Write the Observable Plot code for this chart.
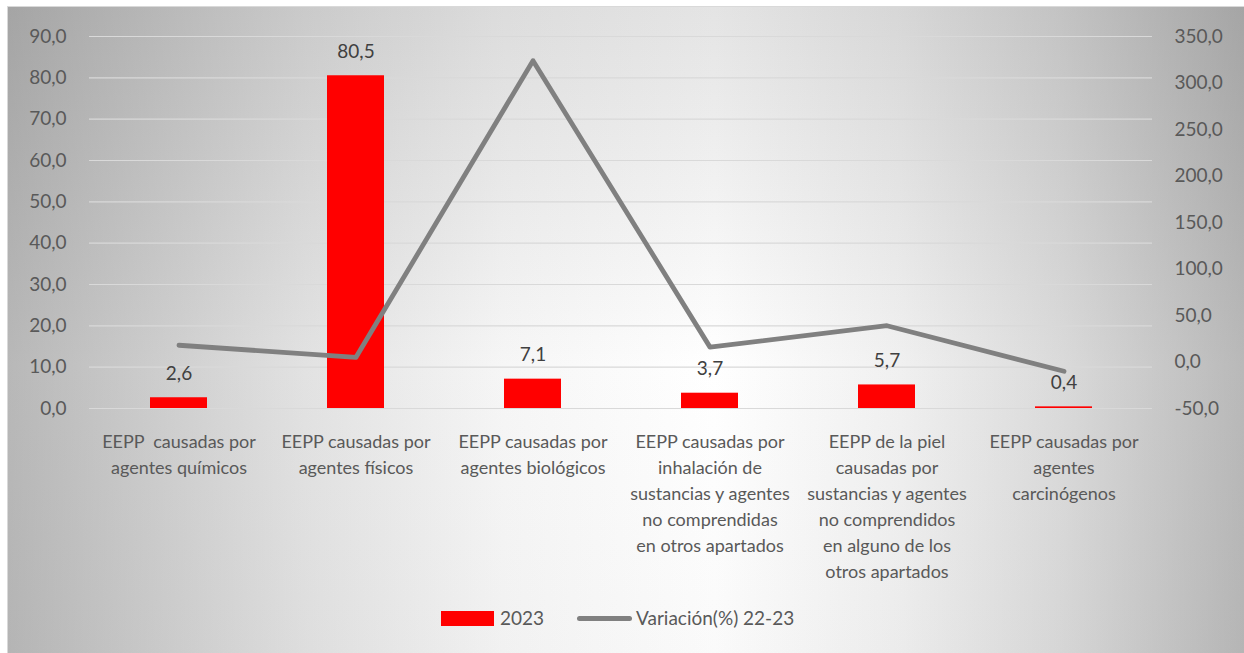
<!DOCTYPE html>
<html>
<head>
<meta charset="utf-8">
<script src="https://cdn.jsdelivr.net/npm/d3@7"></script>
<script src="https://cdn.jsdelivr.net/npm/@observablehq/plot@0.6"></script>
<style>
  html, body { margin: 0; padding: 0; background: #ffffff; }
  body { position: relative; width: 1244px; height: 653px; overflow: hidden; font-family: Lato, "Open Sans", sans-serif; }
  #bg { position: absolute; left: 7px; top: 6px; width: 1240px; height: 650px; border: 1px solid #d9d9d9;
        background: linear-gradient(to right, #b8b8b8 0%, #e2e2e2 24%, #f6f6f6 40%, #ffffff 57%, #f0f0f0 72%, #dadada 85%, #b8b8b8 100%),
                    linear-gradient(to bottom, #e4e4e4 0%, #ffffff 55%, #fafafa 100%);
        background-blend-mode: multiply; }
  #chart { position: absolute; left: 0; top: 0; }
  #chart svg text { white-space: pre; }
  #legend { position: absolute; left: 0; top: 0; width: 1244px; height: 653px; pointer-events: none; color: #595959; font-size: 19px; }
  .sw-bar { position: absolute; left: 441px; top: 611px; width: 53px; height: 15px; background: #ff0000; }
  .sw-line { position: absolute; left: 577px; top: 616px; width: 55px; height: 5px; background: #808080; border-radius: 3px; }
  .lt { position: absolute; top: 605px; line-height: 26px; }
</style>
</head>
<body>
<div id="bg"></div>
<div id="chart"></div>
<div id="legend">
  <div class="sw-bar"></div><div class="lt" id="l1" style="left:500px"></div>
  <div class="sw-line"></div><div class="lt" id="l2" style="left:636px"></div>
</div>
<script>
const categories = [
  "EEPP  causadas por\nagentes químicos",
  "EEPP causadas por\nagentes físicos",
  "EEPP causadas por\nagentes biológicos",
  "EEPP causadas por\ninhalación de\nsustancias y agentes\nno comprendidas\nen otros apartados",
  "EEPP de la piel\ncausadas por\nsustancias y agentes\nno comprendidos\nen alguno de los\notros apartados",
  "EEPP causadas por\nagentes\ncarcinógenos"
];
const values2023 = [2.6, 80.5, 7.1, 3.7, 5.7, 0.4];
const variation = [18, 5, 324, 16, 39, -10];
const seriesNames = ["2023", "Variación(%) 22-23"];
const leftTicks = [0, 10, 20, 30, 40, 50, 60, 70, 80, 90];
const rightTicks = [-50, 0, 50, 100, 150, 200, 250, 300, 350];

document.getElementById("l1").textContent = seriesNames[0];
document.getElementById("l2").textContent = seriesNames[1];

// secondary axis (-50..350) mapped onto primary (0..90)
const toLeft = v => (v + 50) * 90 / 400;
const fromLeft = y => y * 400 / 90 - 50;
const fmt = d => (Math.round(d * 10) / 10).toFixed(1).replace(".", ",");

const data = categories.map((c, i) => ({c, v: values2023[i], w: variation[i]}));

const plot = Plot.plot({
  width: 1244,
  height: 600,
  marginLeft: 89,
  marginRight: 92,
  marginTop: 36,
  marginBottom: 192,
  style: {background: "transparent", fontFamily: "Lato, 'Open Sans', sans-serif", overflow: "visible"},
  x: {domain: categories, type: "band", paddingInner: 0.68, paddingOuter: 0.34, axis: null, label: null},
  y: {domain: [0, 90], axis: null, label: null},
  marks: [
    Plot.gridY(leftTicks, {stroke: "#d9d9d9", strokeOpacity: 1, strokeWidth: 1.2}),
    Plot.barY(data, {x: "c", y: "v", fill: "#ff0000"}),
    Plot.line(data, {x: "c", y: d => toLeft(d.w), stroke: "#808080", strokeWidth: 4.8, strokeLinecap: "round", strokeLinejoin: "round"}),
    Plot.text(data, {x: "c", y: "v", text: d => fmt(d.v), dy: -18, lineAnchor: "bottom", fontSize: 19, fill: "#404040"}),
    Plot.axisY(leftTicks, {anchor: "left", label: null, tickSize: 0, tickPadding: 23, tickFormat: fmt, fontSize: 19, fill: "#595959"}),
    Plot.axisY(rightTicks.map(toLeft), {anchor: "right", label: null, tickSize: 0, tickPadding: 22, tickFormat: d => fmt(fromLeft(d)), fontSize: 19, fill: "#595959"}),
    Plot.axisX({anchor: "bottom", label: null, tickSize: 0, tickPadding: 21, fontSize: 18, lineHeight: 26 / 18, lineAnchor: "top", fill: "#595959"})
  ]
});
document.getElementById("chart").appendChild(plot);
</script>
</body>
</html>
